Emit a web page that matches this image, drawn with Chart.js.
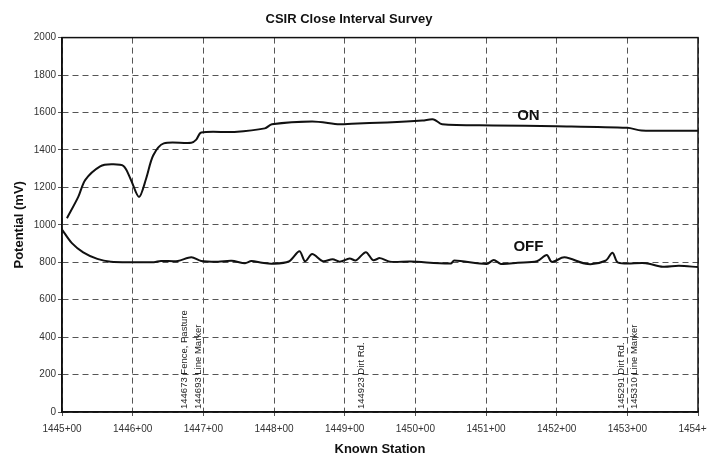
<!DOCTYPE html>
<html lang="en">
<head>
  <meta charset="UTF-8">
  <title>CSIR Close Interval Survey</title>
  <script src="https://cdn.jsdelivr.net/npm/chart.js"></script>
  <style>
    html, body { margin: 0; padding: 0; background: #fff; }
    .grafico { width: 707px; height: 461px; }
  </style>
</head>
<body>
  <div class="grafico">
    <canvas id="id_grafico"></canvas>
  </div>

<script>
// station in feet (1445+00 = 144500)
const onStation = [144507, 144523, 144533, 144554, 144570, 144587, 144597, 144609, 144619, 144629, 144644, 144683, 144690, 144697, 144744, 144787, 144797, 144854, 144893, 144910, 144960, 145010, 145026, 145038, 145110, 145200, 145300, 145320, 145400]
const onValue   = [1035,   1149,   1240,   1312,   1323,   1314,   1245,   1149,   1246,   1370,   1435,   1438,   1455,   1493,   1496,   1515,   1537,   1552,   1537,   1540,   1547,   1557,   1563,   1537,   1531,   1527,   1518,   1504,   1503]

const offStation = [144500, 144514, 144530, 144550, 144569, 144601, 144630, 144640, 144664, 144683, 144697, 144721, 144740, 144759, 144768, 144783, 144797, 144821, 144836, 144844, 144854, 144869, 144883, 144893, 144907, 144916, 144930, 144940, 144950, 144964, 144993, 145050, 145055, 145101, 145111, 145121, 145145, 145172, 145186, 145193, 145211, 145244, 145269, 145279, 145287, 145326, 145350, 145373, 145400]
const offValue   = [975,    902,    853,    818,    803,    800,    800,    807,    807,    827,    807,    803,    808,    795,    806,    797,    792,    804,    859,    805,    844,    806,    816,    803,    820,    810,    854,    811,    822,    803,    804,    793,    809,    791,    812,    791,    797,    805,    839,    802,    826,    790,    808,    851,    798,    795,    776,    781,    774]

const markerStation = [144673, 144693, 144923, 145291, 145310]
const markerText = ['144673 Fence, Pasture', '144693 Line Marker', '144923 Dirt Rd.', '145291 Dirt Rd.', '145310 Line Marker']

const seriesLabel = ['ON', 'OFF']
const seriesLabelAt = [[145160, 1580], [145160, 880]]

function pontos(xs, ys) {
  var lista = []
  for (var i = 0; i < xs.length; i++) {
    lista.push({ x: xs[i], y: ys[i] })
  }
  return lista
}

const extras = {
  id: 'extras',
  afterDatasetsDraw(chart) {
    const ctx = chart.ctx
    const area = chart.chartArea
    const sx = chart.scales.x
    const sy = chart.scales.y

    // marker texts along the axis
    ctx.save()
    ctx.fillStyle = '#222'
    ctx.font = '9.5px "Liberation Sans", Arial, sans-serif'
    ctx.textAlign = 'left'
    ctx.textBaseline = 'middle'
    for (var i = 0; i < markerStation.length; i++) {
      ctx.save()
      ctx.translate(sx.getPixelForValue(markerStation[i]), area.bottom - 3)
      ctx.rotate(-Math.PI / 2)
      ctx.fillText(markerText[i], 0, 0)
      ctx.restore()
    }

    // ON / OFF labels
    ctx.font = 'bold 15px "Liberation Sans", Arial, sans-serif'
    ctx.textAlign = 'center'
    ctx.fillStyle = '#111'
    for (var j = 0; j < seriesLabel.length; j++) {
      ctx.fillText(seriesLabel[j], sx.getPixelForValue(seriesLabelAt[j][0]), sy.getPixelForValue(seriesLabelAt[j][1]))
    }

    // frame
    ctx.strokeStyle = '#111'
    ctx.lineWidth = 1.5
    ctx.strokeRect(area.left, area.top, area.right - area.left, area.bottom - area.top)
    ctx.restore()
  }
}

const ctx = document.getElementById('id_grafico').getContext('2d')
var grafico = new Chart(ctx, {
  type: 'line',
  data: {
    datasets: [
      {
        label: 'ON',
        data: pontos(onStation, onValue),
        borderColor: '#111',
        borderWidth: 2,
        pointRadius: 0,
        tension: 0.3,
        fill: false
      },
      {
        label: 'OFF',
        data: pontos(offStation, offValue),
        borderColor: '#111',
        borderWidth: 2,
        pointRadius: 0,
        tension: 0.3,
        fill: false
      }
    ]
  },
  plugins: [extras],
  options: {
    responsive: true,
    maintainAspectRatio: false,
    animation: false,
    layout: { padding: { left: 0, right: 9, top: 0, bottom: 0 } },
    plugins: {
      legend: { display: false },
      tooltip: { enabled: false },
      title: {
        display: true,
        text: 'CSIR Close Interval Survey',
        color: '#111',
        font: { family: '"Liberation Sans", Arial, sans-serif', size: 13, weight: 'bold' },
        padding: { top: 12, bottom: 10 }
      }
    },
    scales: {
      x: {
        type: 'linear',
        min: 144500,
        max: 145400,
        afterFit: s => { s.height = 49; s.paddingRight = 0; s.paddingLeft = 0 },
        ticks: {
          stepSize: 100,
          color: '#333',
          padding: 7,
          maxRotation: 0,
          font: { family: '"Liberation Sans", Arial, sans-serif', size: 10 },
          callback: v => Math.round(v / 100) + '+00'
        },
        grid: { color: '#555', lineWidth: 1, tickLength: 4 },
        border: { display: true, color: '#111', width: 1.5, dash: [6, 4] },
        title: {
          display: true,
          text: 'Known Station',
          color: '#111',
          padding: 4,
          font: { family: '"Liberation Sans", Arial, sans-serif', size: 13, weight: 'bold' }
        }
      },
      y: {
        min: 0,
        max: 2000,
        afterFit: s => { s.width = 62 },
        ticks: {
          stepSize: 200,
          color: '#333',
          padding: 2,
          font: { family: '"Liberation Sans", Arial, sans-serif', size: 10 },
          callback: v => String(v)
        },
        grid: { color: '#555', lineWidth: 1, tickLength: 4 },
        border: { display: true, color: '#111', width: 1.5, dash: [6, 4] },
        title: {
          display: true,
          text: 'Potential (mV)',
          color: '#111',
          padding: 12,
          font: { family: '"Liberation Sans", Arial, sans-serif', size: 13, weight: 'bold' }
        }
      }
    }
  }
})
</script>
</body>
</html>
